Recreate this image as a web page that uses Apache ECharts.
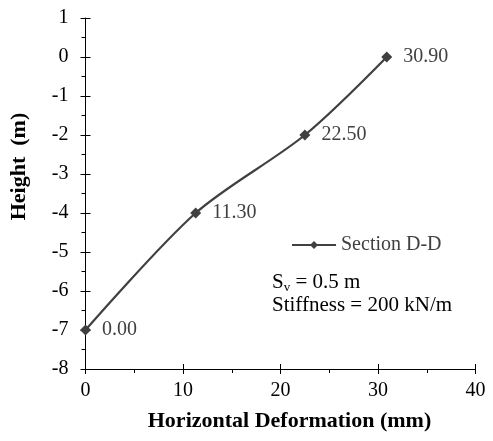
<!DOCTYPE html>
<html>
<head>
<meta charset="utf-8">
<script src="https://cdn.jsdelivr.net/npm/echarts@6/dist/echarts.min.js"></script>
<style>
html, body { margin: 0; padding: 0; background: #fff; }
#main { width: 493px; height: 441px; }
</style>
</head>
<body>
<div id="main"></div>
<script>
// 数据
var deformation = [0, 11.3, 22.5, 30.9];   // mm
var height = [-7, -4, -2, 0];             // m
var pointLabels = ['0.00', '11.30', '22.50', '30.90'];
var seriesName = 'Section D-D';

var serif = '"Liberation Serif", "DejaVu Serif", serif';
var lineColor = '#404040';

var points = deformation.map(function (x, i) {
    return [x, height[i]];
});

var myChart = echarts.init(document.getElementById('main'));

var option = {
    backgroundColor: '#fff',
    animation: false,
    grid: {
        left: 85.5,
        right: 17.5,
        top: 18,
        bottom: 72,
        outerBoundsMode: 'none'
    },
    legend: {
        data: [seriesName],
        left: 286,
        top: 230,
        itemWidth: 44,
        itemHeight: 10,
        itemGap: 4,
        textStyle: { fontFamily: serif, fontSize: 20, color: '#404040' }
    },
    xAxis: [{
        type: 'value',
        min: 0,
        max: 40,
        interval: 10,
        name: 'Horizontal Deformation (mm)',
        nameLocation: 'middle',
        nameGap: 41,
        nameTextStyle: { fontFamily: serif, fontSize: 22, fontWeight: 'bold', color: '#000', padding: [0, 0, 0, 18] },
        axisLine: { onZero: false, lineStyle: { color: '#000', width: 1 } },
        axisTick: { show: true, length: 5, lineStyle: { color: '#000' } },
        minorTick: { show: true, splitNumber: 2, length: 4, lineStyle: { color: '#000' } },
        axisLabel: { fontFamily: serif, fontSize: 20, color: '#000', margin: 12 },
        splitLine: { show: false }
    }, {
        // 内侧刻度
        type: 'value',
        position: 'bottom',
        min: 0,
        max: 40,
        interval: 10,
        axisLine: { show: false, onZero: false },
        axisTick: { show: true, inside: true, length: 5, lineStyle: { color: '#000' } },
        axisLabel: { show: false },
        splitLine: { show: false }
    }],
    yAxis: [{
        type: 'value',
        min: -8,
        max: 1,
        interval: 1,
        name: 'Height  (m)',
        nameLocation: 'middle',
        nameGap: 55,
        nameTextStyle: { fontFamily: serif, fontSize: 22, fontWeight: 'bold', color: '#000', padding: [0, 0, 0, 54] },
        axisLine: { show: true, onZero: false, lineStyle: { color: '#000', width: 1 } },
        axisTick: { show: true, length: 5, lineStyle: { color: '#000' } },
        minorTick: { show: true, splitNumber: 2, length: 4, lineStyle: { color: '#000' } },
        axisLabel: { fontFamily: serif, fontSize: 20, color: '#000', margin: 17 },
        splitLine: { show: false }
    }, {
        type: 'value',
        position: 'left',
        min: -8,
        max: 1,
        interval: 1,
        axisLine: { show: false, onZero: false },
        axisTick: { show: true, inside: true, length: 5, lineStyle: { color: '#000' } },
        axisLabel: { show: false },
        splitLine: { show: false }
    }],
    series: [{
        name: seriesName,
        type: 'line',
        smooth: 0.3,
        data: points,
        symbol: 'diamond',
        symbolSize: 11,
        itemStyle: { color: lineColor },
        lineStyle: { color: lineColor, width: 2.2 },
        label: {
            show: true,
            position: 'right',
            distance: 11,
            fontFamily: serif,
            fontSize: 20,
            color: '#404040',
            formatter: function (p) {
                return pointLabels[p.dataIndex];
            }
        }
    }],
    graphic: [{
        type: 'text',
        left: 272,
        top: 272,
        style: {
            text: '{a|S}{b|v}{a| = 0.5 m}',
            rich: {
                a: { fontFamily: serif, fontSize: 21, fill: '#000' },
                b: { fontFamily: serif, fontSize: 13, fill: '#000', padding: [11, 0, 0, 0] }
            }
        }
    }, {
        type: 'text',
        left: 272,
        top: 295,
        style: {
            text: 'Stiffness = 200 kN/m',
            fontFamily: serif,
            fontSize: 21,
            fill: '#000'
        }
    }]
};

myChart.setOption(option);
window.onresize = myChart.resize;
</script>
</body>
</html>
